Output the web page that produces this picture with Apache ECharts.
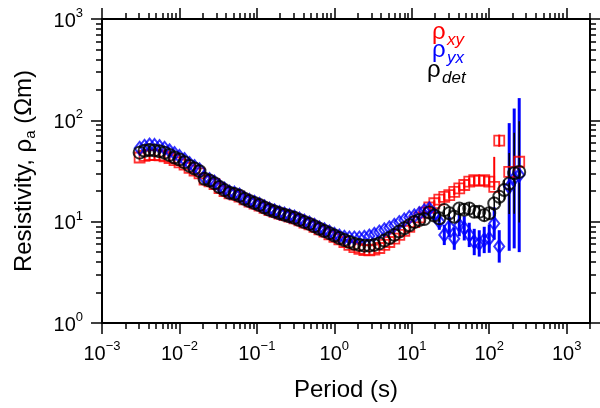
<!DOCTYPE html>
<html><head><meta charset="utf-8">
<script src="https://cdn.jsdelivr.net/npm/echarts@6/dist/echarts.min.js"></script>
<style>html,body{margin:0;padding:0;background:#fff}#c{width:600px;height:408px}</style>
</head><body><div id="c"></div>
<script>
const periods = [0.00306,0.00354,0.00411,0.00477,0.00553,0.00642,0.00745,0.00864,0.01002,0.01163,0.01349,0.01565,0.01816,0.02106,0.02443,0.02835,0.03289,0.03815,0.04426,0.05135,0.05957,0.0691,0.08017,0.093,0.1079,0.1252,0.1452,0.1685,0.1954,0.2267,0.263,0.3051,0.354,0.4107,0.4764,0.5527,0.6412,0.7439,0.863,1.001,1.161,1.347,1.563,1.813,2.104,2.441,2.831,3.285,3.811,4.421,5.129,5.95,6.902,8.008,9.29,10.78,12.5,14.5,16.83,19.52,22.65,26.27,30.48,35.36,41.02,47.59,55.21,64.05,74.3,86.2,100,116,134.6,156.1,181.1,210.1,243.8];
const rhoXY = [43,44.5,45.5,45.5,45,44,42.5,40.5,38.5,36.5,34,32,30,26,25,23.5,21.5,20,19,18.5,17.7,16.6,15.8,15.1,14.4,13.7,13.0,12.5,12.0,11.6,11.2,10.8,10.3,9.8,9.4,8.9,8.4,8.0,7.5,7.1,6.7,6.3,5.9,5.6,5.4,5.25,5.2,5.3,5.5,5.9,6.3,6.8,7.4,8.1,8.9,9.9,11.0,12.3,13.8,15.2,16.5,17.6,18.3,19.7,21.3,23,24.8,25.7,25.3,25.7,24.8,22,63,null,31,null,39];
const rhoYX = [53,55.5,57,56.5,55,53,50,47,44,41,37.5,35,32.5,27,26,24.5,22.5,21,19.6,19.1,18.3,17.0,16.2,15.5,14.8,14.0,13.3,12.8,12.3,11.9,11.5,11.1,10.6,10.1,9.7,9.2,8.7,8.3,7.9,7.5,7.2,7.0,6.9,6.9,6.9,7.0,7.2,7.5,7.9,8.3,8.7,9.2,9.8,10.4,11.0,11.4,12.0,12.8,13.4,11.8,10.0,7.4,8.9,6.8,9.25,8.6,7.4,6.3,6.1,6.6,6.8,9.6,5.7,null,22,26.7,28.8];
const rhoDet = [48,50,51,50.5,49.5,48,45.5,43,41,38.5,35.5,33.5,31.5,26.5,25.5,24,22,20.5,19.3,18.8,18,16.8,16,15.3,14.6,13.8,13.1,12.6,12.1,11.7,11.3,10.9,10.4,9.9,9.5,9.0,8.5,8.1,7.7,7.3,6.9,6.6,6.3,6.05,5.9,5.8,5.8,5.9,6.1,6.5,6.9,7.4,8.0,8.6,9.2,9.9,10.4,10.6,12.3,11.5,10.8,13.0,12.1,11.2,13.5,13.1,13.5,12.5,12.5,11.6,12.1,15.1,17.6,20.5,23.8,30,31];
// error bars: number = half-width in log10 units, array = [low, high]
const errXY = {59:0.03,60:0.03,61:0.035,62:0.035,63:0.035,64:0.04,65:0.04,66:0.04,67:0.04,68:0.04,69:0.045,70:0.05,71:[20.5,43.6],72:0.06,74:0.05,76:0.05};
const errYX = {57:0.04,58:0.05,59:0.06,60:0.08,61:0.1,62:0.1,63:0.11,64:0.11,65:0.12,66:0.12,67:0.13,68:0.13,69:0.13,70:0.14,71:0.16,72:0.16,74:0.63,75:0.69,76:0.76};
const errDet = {58:0.03,59:0.03,60:0.04,61:0.04,62:0.04,63:0.05,64:0.05,65:0.05,66:0.06,67:0.06,68:0.06,69:0.06,70:0.06,71:0.07,72:0.08,73:0.1,74:0.3,75:0.4,76:0.5};
const xMajor = [0.001,0.01,0.1,1,10,100,1000];
const yMajor = [1,10,100,1000];
const xMin = 0.001, xMax = 2000, yMin = 1, yMax = 1000;
const legendItems = [
  {sub:'xy', color:'#ff0000'},
  {sub:'yx', color:'#0000ff'},
  {sub:'det', color:'#000000'}
];

const FONT = 'Liberation Sans';
function pts(vals){ const out=[]; vals.forEach((v,i)=>{ if(v!=null) out.push([periods[i], v]); }); return out; }
function bars(vals, err){ const out=[]; Object.keys(err).forEach(k=>{ const i=+k, v=vals[i]; if(v==null) return; const e=err[k]; let lo,hi; if(Array.isArray(e)){lo=e[0];hi=e[1];} else {lo=v/Math.pow(10,e); hi=v*Math.pow(10,e);} out.push([periods[i],lo,hi]); }); return out; }
function minors(a,b){ const out=[]; for(let d=a; d<=b; d++) for(let m=2;m<=9;m++){ out.push(+(m*Math.pow(10,d)).toPrecision(6)); } return out; }
const xMinor = minors(-3,3).filter(v=>v<=xMax*1.0001);
const yMinor = minors(0,2);

function fmt(val){ const e=Math.round(Math.log10(val)); return '{b|10}{s|'+(e<0?'\u2212'+(-e):e)+'}'; }
const labelRich = { b:{fontSize:20,fontFamily:FONT,color:'#000',lineHeight:24,verticalAlign:'bottom'}, s:{fontSize:13,fontFamily:FONT,color:'#000',lineHeight:14,verticalAlign:'top'} };
const lineStyle = {color:'#000', width:2};

function xAx(pos, major, label){
  return {type:'log', position:pos, min:xMin, max:xMax, logBase:10,
    axisLine:{show:major, lineStyle:lineStyle, onZero:false},
    axisTick:{show:true, inside:false, length: major?11:6, lineStyle:{color:'#000',width:1.5}, customValues: major?xMajor:xMinor},
    axisLabel:{show:label, customValues:xMajor, formatter:fmt, rich:labelRich, margin:17},
    splitLine:{show:false}, minorTick:{show:false},
    name: label?'Period (s)':'', nameLocation:'middle', nameGap:55,
    nameTextStyle:{fontSize:24, fontFamily:FONT, color:'#000'}};
}
function yAx(pos, major, label){
  return {type:'log', position:pos, min:yMin, max:yMax, logBase:10,
    axisLine:{show:major, lineStyle:lineStyle, onZero:false},
    axisTick:{show:true, inside:false, length: major?11:6, lineStyle:{color:'#000',width:1.5}, customValues: major?yMajor:yMinor},
    axisLabel:{show:label, customValues:yMajor, formatter:fmt, rich:labelRich, margin:19},
    splitLine:{show:false}, minorTick:{show:false},
    name: label?'Resistivity, \u03c1{sub|a} (\u03a9m)':'', nameLocation:'middle', nameGap:64, nameRotate:90,
    nameTextStyle:{fontSize:24, fontFamily:FONT, color:'#000', lineHeight:28, rich:{sub:{fontSize:15,fontFamily:FONT,color:'#000',verticalAlign:'bottom',lineHeight:12}}}};
}

function errSeries(data, color, width){
  return {type:'custom', xAxisIndex:0, yAxisIndex:0, data:data, encode:{x:0,y:[1,2]}, silent:true, clip:true,
    renderItem:function(params, api){
      const p1 = api.coord([api.value(0), api.value(1)]);
      const p2 = api.coord([api.value(0), api.value(2)]);
      return {type:'line', shape:{x1:p1[0],y1:p1[1],x2:p2[0],y2:p2[1]}, style:{stroke:color, lineWidth:width}};
    }};
}
function scat(data, symbol, size, color, lw){
  return {type:'scatter', xAxisIndex:0, yAxisIndex:0, data:data, symbol:symbol, symbolSize:size, silent:true,
    itemStyle:{color:'rgba(0,0,0,0)', borderColor:color, borderWidth:lw}, clip:false};
}

// legend positions (layout only)
const legendPos = [{x:432, y:20.5}, {x:432, y:38.5}, {x:427, y:58.5}];
const graphics = [];
legendItems.forEach((it,k)=>{
  const p = legendPos[k];
  graphics.push({type:'text', x:p.x, y:p.y, style:{text:'\u03c1', font:'24px "'+FONT+'"', fill:it.color, verticalAlign:'top'}});
  graphics.push({type:'text', x:p.x+15, y:p.y+11, style:{text:it.sub, font:'italic 17px "'+FONT+'"', fill:it.color, verticalAlign:'top'}});
});

const chart = echarts.init(document.getElementById('c'), null, {renderer:'canvas'});
chart.setOption({
  animation:false,
  backgroundColor:'#fff',
  grid:{left:102, right:10, top:19, bottom:85, containLabel:false},
  xAxis:[xAx('bottom',true,true), xAx('bottom',false,false), xAx('top',true,false), xAx('top',false,false)],
  yAxis:[yAx('left',true,true), yAx('left',false,false), yAx('right',true,false), yAx('right',false,false)],
  series:[
    errSeries(bars(rhoXY,errXY), '#ff0000', 2),
    scat(pts(rhoXY), 'rect', 10, '#ff0000', 1.8),
    errSeries(bars(rhoYX,errYX), '#0000ff', 3),
    scat(pts(rhoYX), 'diamond', [10,13], '#0000ff', 2),
    errSeries(bars(rhoDet,errDet), '#000000', 1.5),
    scat(pts(rhoDet), 'circle', 12, '#000000', 2)
  ],
  graphic:graphics
});
</script></body></html>
